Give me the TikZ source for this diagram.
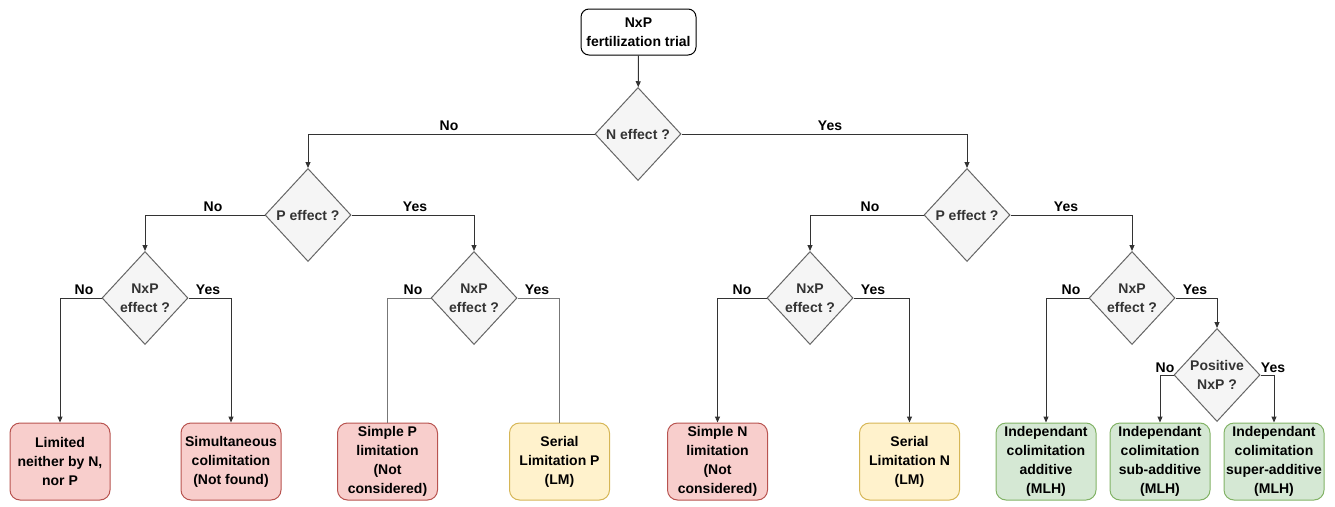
\documentclass[tikz,border=0pt]{standalone}
\usepackage{fontspec}
\setmainfont{Liberation Sans}
\usetikzlibrary{shapes.geometric,arrows.meta}
\definecolor{redF}{HTML}{F8CECC}
\definecolor{redD}{HTML}{B85450}
\definecolor{yelF}{HTML}{FFF2CC}
\definecolor{yelD}{HTML}{D6B656}
\definecolor{grnF}{HTML}{D5E8D4}
\definecolor{grnD}{HTML}{82B366}
\definecolor{diaF}{HTML}{F5F5F5}
\definecolor{diaD}{HTML}{666666}
\definecolor{diaT}{HTML}{333333}
\definecolor{edgeC}{HTML}{333333}
\definecolor{edgeL}{HTML}{777777}
\begin{document}
\begin{tikzpicture}[x=1pt,y=-1pt,
  txt/.style={font=\fontsize{14}{19}\selectfont\bfseries},
  leaf/.style={txt, draw, rounded corners=10pt, minimum width=100pt, minimum height=77pt, inner sep=0pt, align=center, line width=1pt},
  redleaf/.style={leaf, draw=redD, fill=redF},
  yelleaf/.style={leaf, draw=yelD, fill=yelF},
  grnleaf/.style={leaf, draw=grnD, fill=grnF},
  topbox/.style={txt, draw=black, fill=white, rounded corners=8pt, minimum width=115pt, minimum height=46pt, inner sep=0pt, align=center, line width=1pt},
  dia/.style={shape=diamond, draw=diaD, fill=diaF, minimum width=86pt, minimum height=93pt, inner sep=0pt, line width=1pt},
  diatext/.style={txt, text=diaT, align=center, inner sep=0pt},
  lbl/.style={txt, anchor=base, inner sep=0pt},
  arr/.style={draw=edgeC, line width=1pt, -{Triangle[length=6pt,width=5pt]}},
  plainedge/.style={draw=edgeL, line width=1pt}
]
\useasboundingbox (0,0) rectangle (1335,506);

% top
\node[topbox] (top) at (638.5,32) {NxP\\fertilization trial};

% diamonds
\node[dia] (root) at (638,134) {};
\node[diatext] (roott) at (root.center) {N effect ?};
\node[dia] (pl) at (308,215) {};
\node[diatext] (plt) at (pl.center) {P effect ?};
\node[dia] (pr) at (967,215) {};
\node[diatext] (prt) at (pr.center) {P effect ?};
\node[dia] (n1) at (145,298) {};
\node[diatext] (n1t) at (n1.center) {NxP\\effect ?};
\node[dia] (n2) at (474,298) {};
\node[diatext] (n2t) at (n2.center) {NxP\\effect ?};
\node[dia] (n3) at (810,298) {};
\node[diatext] (n3t) at (n3.center) {NxP\\effect ?};
\node[dia] (n4) at (1132,298) {};
\node[diatext] (n4t) at (n4.center) {NxP\\effect ?};
\node[dia] (pos) at (1217,375) {};
\node[diatext] (post) at (pos.center) {Positive\\NxP ?};

% leaves
\node[redleaf] (leaf1) at (60,461.5) {Limited\\neither by N,\\nor P};
\node[redleaf] (leaf2) at (231,461.5) {Simultaneous\\colimitation\\(Not found)};
\node[redleaf] (leaf3) at (387.5,461.5) {Simple P\\limitation\\(Not\\considered)};
\node[yelleaf] (leaf4) at (559.5,461.5) {Serial\\Limitation P\\(LM)};
\node[redleaf] (leaf5) at (717.5,461.5) {Simple N\\limitation\\(Not\\considered)};
\node[yelleaf] (leaf6) at (909.5,461.5) {Serial\\Limitation N\\(LM)};
\node[grnleaf] (leaf7) at (1046,461.5) {Independant\\colimitation\\additive\\(MLH)};
\node[grnleaf] (leaf8) at (1160,461.5) {Independant\\colimitation\\sub-additive\\(MLH)};
\node[grnleaf] (leaf9) at (1274,461.5) {Independant\\colimitation\\super-additive\\(MLH)};

% edges
\draw[arr] (top) -- (root);
\draw[arr] (root.west) -| (pl.north);
\draw[arr] (root.east) -| (pr.north);
\draw[arr] (pl.west) -| (n1.north);
\draw[arr] (pl.east) -| (n2.north);
\draw[arr] (pr.west) -| (n3.north);
\draw[arr] (pr.east) -| (n4.north);
\draw[arr] (n1.west) -| (leaf1.north);
\draw[arr] (n1.east) -| (leaf2.north);
\draw[plainedge] (n2.west) -| (leaf3.north);
\draw[plainedge] (n2.east) -| (leaf4.north);
\draw[arr] (n3.west) -| (leaf5.north);
\draw[arr] (n3.east) -| (leaf6.north);
\draw[arr] (n4.west) -| (leaf7.north);
\draw[arr] (n4.east) -| (pos.north);
\draw[arr] (pos.west) -| (leaf8.north);
\draw[arr] (pos.east) -| (leaf9.north);

% edge labels
\node[lbl] (l1) at (449,130) {No};
\node[lbl] (l2) at (830,130) {Yes};
\node[lbl] (l3) at (213,211) {No};
\node[lbl] (l4) at (415,211) {Yes};
\node[lbl] (l5) at (870,211) {No};
\node[lbl] (l6) at (1066,211) {Yes};
\node[lbl] (l7) at (84,294) {No};
\node[lbl] (l8) at (208,294) {Yes};
\node[lbl] (l9) at (413,294) {No};
\node[lbl] (l10) at (537,294) {Yes};
\node[lbl] (l11) at (742,294) {No};
\node[lbl] (l12) at (873,294) {Yes};
\node[lbl] (l13) at (1071,294) {No};
\node[lbl] (l14) at (1195,294) {Yes};
\node[lbl] (l15) at (1165,372) {No};
\node[lbl] (l16) at (1273,372) {Yes};
\end{tikzpicture}
\end{document}
